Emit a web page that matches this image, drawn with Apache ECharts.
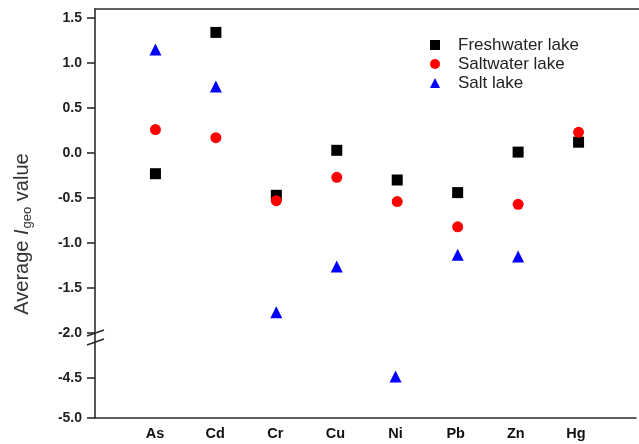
<!DOCTYPE html>
<html><head><meta charset="utf-8">
<script src="https://cdn.jsdelivr.net/npm/echarts@6/dist/echarts.min.js"></script>
<style>html,body{margin:0;padding:0;background:#fff}#c{width:639px;height:444px}</style>
</head><body><div id="c"></div>
<script>
var categories = ['As','Cd','Cr','Cu','Ni','Pb','Zn','Hg'];
var freshwater = [-0.23, 1.34, -0.47, 0.03, -0.30, -0.44, 0.01, 0.12];
var saltwater  = [0.26, 0.17, -0.53, -0.27, -0.54, -0.82, -0.57, 0.23];
var saltLake   = [1.15, 0.74, -1.77, -1.26, -4.48, -1.13, -1.15, null];
var upperTicks = [-2.0, -1.5, -1.0, -0.5, 0.0, 0.5, 1.0, 1.5];
var lowerTicks = [-5.0, -4.5];
var breakLow = -3;

function part(arr, lower) {
  var out = [];
  arr.forEach(function (v, i) {
    if (v === null) return;
    if ((v < breakLow) === lower) out.push([i, v]);
  });
  return out;
}
var defs = [
  {name: 'Freshwater lake', data: freshwater, symbol: 'rect', size: 11, color: '#000000'},
  {name: 'Saltwater lake', data: saltwater, symbol: 'circle', size: 11, color: '#ff0000'},
  {name: 'Salt lake', data: saltLake, symbol: 'triangle', size: 12, color: '#0000ff'}
];
var series = [];
defs.forEach(function (d) {
  [false, true].forEach(function (lower) {
    series.push({
      name: d.name, type: 'scatter', symbol: d.symbol, symbolSize: d.size,
      itemStyle: {color: d.color, opacity: 1}, xAxisIndex: lower ? 1 : 0, yAxisIndex: lower ? 1 : 0,
      data: part(d.data, lower), emphasis: {disabled: true}
    });
  });
});
var axisLineStyle = {color: '#2b2b2b', width: 1.6};
var yLabel = {fontFamily: 'Liberation Sans, Arial', fontWeight: 'bold', fontSize: 14, color: '#222', margin: 13,
  formatter: function (v) { return v.toFixed(1); }};
var chart = echarts.init(document.getElementById('c'));
chart.setOption({
  animation: false,
  grid: [
    {left: 95, right: -6, top: 9, height: 333},
    {left: 95, right: -6, top: 342, height: 76}
  ],
  xAxis: [
    {gridIndex: 0, type: 'value', min: -1, max: 8, position: 'top', axisLine: {show: true, onZero: false, lineStyle: axisLineStyle},
      axisTick: {show: false}, axisLabel: {show: false}, splitLine: {show: false}},
    {gridIndex: 1, type: 'value', min: -1, max: 8, interval: 1, position: 'bottom', axisLine: {show: true, onZero: false, lineStyle: axisLineStyle},
      axisTick: {show: false}, splitLine: {show: false},
      axisLabel: {fontFamily: 'Liberation Sans, Arial', fontWeight: 'bold', fontSize: 14.5, color: '#111', margin: 8,
        formatter: function (v) { return categories[v] || ''; }}}
  ],
  yAxis: [
    {gridIndex: 0, type: 'value', min: -2.1, max: 1.6, position: 'left', axisLine: {show: true, onZero: false, lineStyle: axisLineStyle},
      axisTick: {show: true, inside: false, length: 8, lineStyle: axisLineStyle, customValues: upperTicks},
      axisLabel: Object.assign({customValues: upperTicks}, yLabel), splitLine: {show: false}},
    {gridIndex: 1, type: 'value', min: -5.0, max: -4.05, position: 'left', axisLine: {show: true, onZero: false, lineStyle: axisLineStyle},
      axisTick: {show: true, inside: false, length: 8, lineStyle: axisLineStyle, customValues: lowerTicks},
      axisLabel: Object.assign({customValues: lowerTicks}, yLabel), splitLine: {show: false}}
  ],
  legend: {
    orient: 'vertical', left: 425, top: 31, itemGap: 1, itemWidth: 10, itemHeight: 10,
    textStyle: {fontFamily: 'Liberation Sans, Arial', fontSize: 17, lineHeight: 18, color: '#222', padding: [0, 0, 0, 13]},
    data: defs.map(function (d) { return {name: d.name}; })
  },
  graphic: [
    {type: 'line', shape: {x1: 87, y1: 336, x2: 104, y2: 330}, style: {stroke: '#2b2b2b', lineWidth: 1.6}},
    {type: 'line', shape: {x1: 87, y1: 345, x2: 104, y2: 339}, style: {stroke: '#2b2b2b', lineWidth: 1.6}},
    {type: 'text', x: 22, y: 234, rotation: Math.PI / 2,
      style: {text: '{a|Average }{i|I}{s|geo}{a| value}', fill: '#333', align: 'center', verticalAlign: 'middle',
        rich: {
          a: {fontFamily: 'Liberation Sans, Arial', fontSize: 20, fill: '#333', lineHeight: 24},
          i: {fontFamily: 'Liberation Sans, Arial', fontSize: 20, fontStyle: 'italic', fill: '#333', lineHeight: 24},
          s: {fontFamily: 'Liberation Sans, Arial', fontSize: 13, fill: '#333', padding: [11, 0, 0, 1], lineHeight: 24}
        }}}
  ],
  series: series
});
</script></body></html>
